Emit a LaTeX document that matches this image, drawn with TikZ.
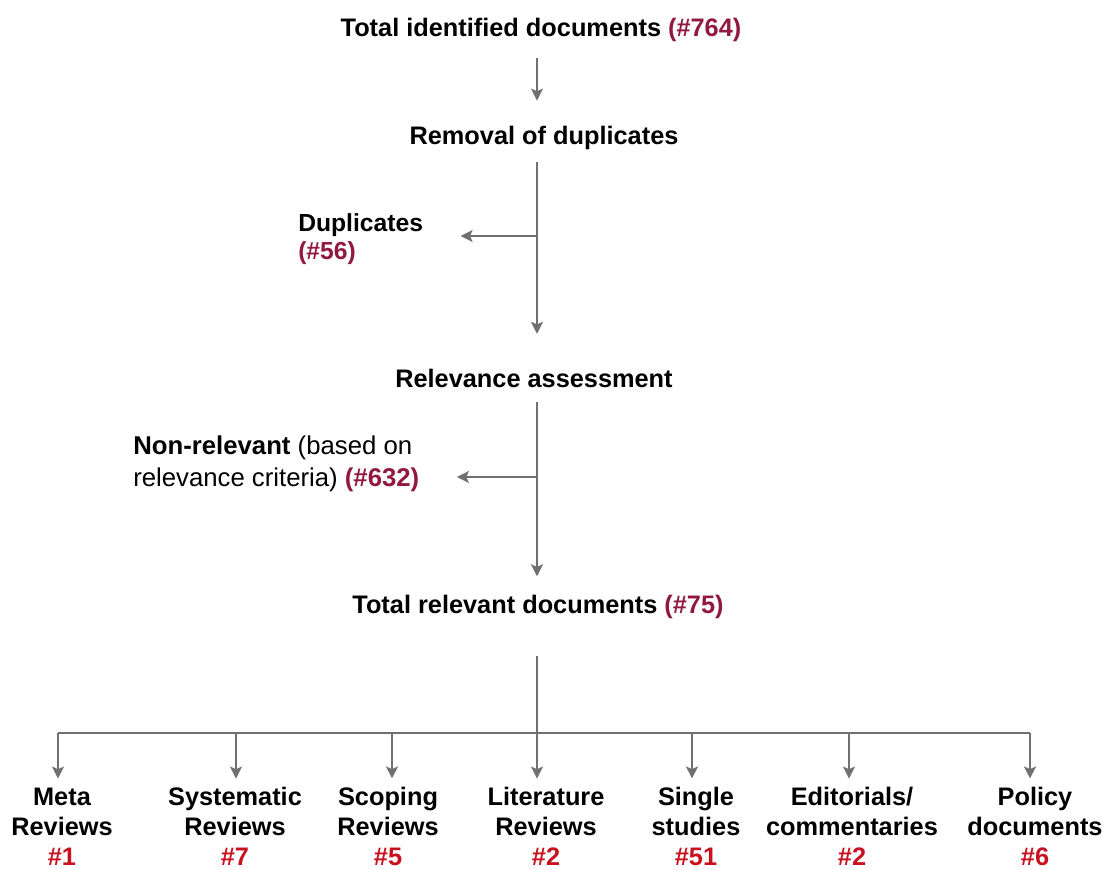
\documentclass[tikz,border=0pt]{standalone}
\usepackage{fontspec}
\setmainfont{Liberation Sans}
\usetikzlibrary{arrows.meta}
\definecolor{maroon}{RGB}{145,25,65}
\definecolor{numred}{RGB}{200,16,30}
\definecolor{arrgray}{RGB}{112,112,112}
\newcommand{\fl}{\vphantom{Ay/}}
\begin{document}
\begin{tikzpicture}[x=0.75pt,y=-0.75pt,
 head/.style={font=\bfseries\fontsize{19}{22}\selectfont, inner sep=0pt},
 sidea/.style={font=\fontsize{18.5}{21}\selectfont, inner sep=0pt, align=left},
 sideb/.style={font=\fontsize{19.3}{24}\selectfont, inner sep=0pt, align=left},
 cat/.style={font=\bfseries\fontsize{19}{22.5}\selectfont, inner sep=0pt, align=center},
 arr/.style={draw=arrgray, line width=1.2pt, -{Stealth[length=9pt,width=9pt,inset=2pt]}},
 ln/.style={draw=arrgray, line width=1.2pt}]
\useasboundingbox (0,0) rectangle (1103,870);
\coordinate (sp) at (537,0);
% main column
\node[head] (t1) at (541,30) {Total identified documents \textcolor{maroon}{(\#764)}};
\node[head] (t2) at (544,138) {Removal of duplicates};
\node[sidea, anchor=north west] (dup) at (298,213) {\textbf{Duplicates}\\\textcolor{maroon}{\textbf{(\#56)}}};
\node[head] (t3) at (534,378) {Relevance assessment};
\node[sideb, anchor=north west] (nrel) at (133,436) {\textbf{Non-relevant} (based on\\relevance criteria) \textcolor{maroon}{\textbf{(\#632)}}};
\node[head] (t4) at (538,607) {Total relevant documents \textcolor{maroon}{(\#75)}};
% categories
\node[cat] (c1) at (62,826) {\fl Meta\\Reviews\\\textcolor{numred}{\#1}};
\node[cat] (c2) at (235,826) {\fl Systematic\\Reviews\\\textcolor{numred}{\#7}};
\node[cat] (c3) at (388,826) {\fl Scoping\\Reviews\\\textcolor{numred}{\#5}};
\node[cat] (c4) at (546,826) {\fl Literature\\Reviews\\\textcolor{numred}{\#2}};
\node[cat] (c5) at (696,826) {\fl Single\\studies\\\textcolor{numred}{\#51}};
\node[cat] (c6) at (852,826) {\fl Editorials/\\commentaries\\\textcolor{numred}{\#2}};
\node[cat] (c7) at (1035,826) {\fl Policy\\documents\\\textcolor{numred}{\#6}};
% junctions
\coordinate (j1) at (537,236);
\coordinate (j2) at (537,477);
\coordinate (hb) at (0,733);
% spine
\draw[arr, shorten <=12pt, shorten >=19pt] (t1.south -| sp) -- (t2.north -| sp);
\draw[arr, shorten <=9pt, shorten >=26pt] (t2.south -| sp) -- (t3.north -| sp);
\draw[arr, shorten <=11pt, shorten >=14pt] (t3.south -| sp) -- (t4.north -| sp);
\draw[arr, shorten >=28pt] (j1) -- (j1 -| dup.east);
\draw[arr, shorten >=28pt] (j2) -- (j2 -| nrel.east);
% bottom fan
\draw[ln, shorten <=28pt] (t4.south -| sp) -- (hb -| sp);
\draw[ln] ([xshift=-3pt]hb -| c1.north) -- ([xshift=-3.75pt]hb -| c7.north);
\draw[arr, shorten >=6pt] ([xshift=-3pt]hb -| c1.north) -- ([xshift=-3pt]c1.north);
\draw[arr, shorten >=6pt] ([xshift=0.75pt]hb -| c2.north) -- ([xshift=0.75pt]c2.north);
\draw[arr, shorten >=6pt] ([xshift=3pt]hb -| c3.north) -- ([xshift=3pt]c3.north);
\draw[arr, shorten >=6pt] (hb -| sp) -- (c4.north -| sp);
\draw[arr, shorten >=6pt] ([xshift=-3pt]hb -| c5.north) -- ([xshift=-3pt]c5.north);
\draw[arr, shorten >=6pt] ([xshift=-2.25pt]hb -| c6.north) -- ([xshift=-2.25pt]c6.north);
\draw[arr, shorten >=6pt] ([xshift=-3.75pt]hb -| c7.north) -- ([xshift=-3.75pt]c7.north);
\end{tikzpicture}
\end{document}
